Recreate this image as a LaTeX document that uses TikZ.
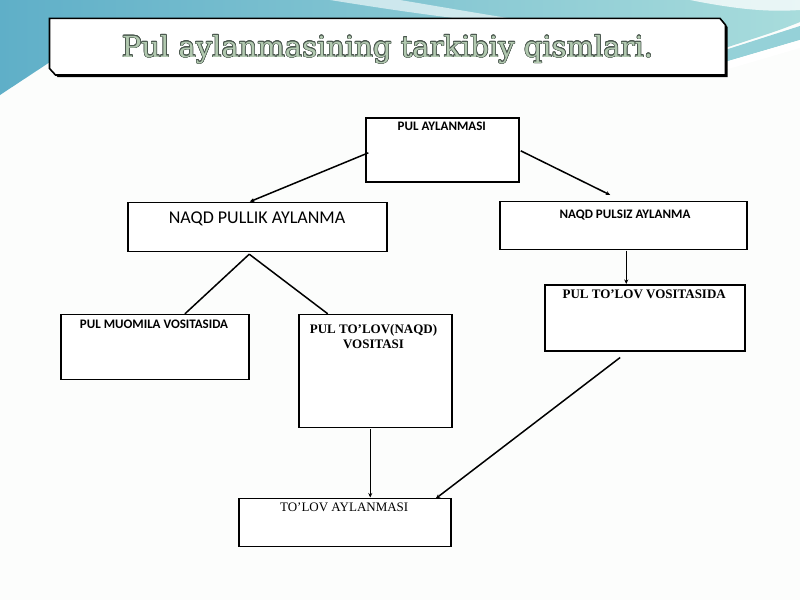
\documentclass[tikz,border=0pt]{standalone}
\usepackage{fontspec}
\setmainfont{Liberation Serif}
\setsansfont{Carlito}
\newfontfamily\titlefont{DejaVu Serif}
\usepackage[copies]{contour}
\usetikzlibrary{calc,arrows.meta}
\definecolor{tealA}{HTML}{5FAFC8}
\definecolor{tealB}{HTML}{A8DCDC}
\definecolor{tealC}{HTML}{7CC6CF}
\definecolor{titlefill}{HTML}{B2C9B0}
\definecolor{titleline}{HTML}{4A574E}
\definecolor{pagebg}{HTML}{FCFDFC}
\tikzset{
  box/.style={draw=black, line width=1.5pt, fill=white, anchor=north west, inner sep=0pt},
  sansb/.style={font=\sffamily\bfseries\fontsize{13}{15}\selectfont, inner sep=0pt, anchor=base},
  sansr/.style={font=\sffamily\fontsize{18}{20}\selectfont, inner sep=0pt, anchor=base},
  serifb/.style={font=\bfseries\fontsize{13}{15}\selectfont, inner sep=0pt, anchor=base},
  serifr/.style={font=\fontsize{13}{15}\selectfont, inner sep=0pt, anchor=base},
  conn/.style={draw=black, line width=1.5pt},
  arr/.style={conn, -{Stealth[length=4.5pt,width=4pt]}}
}
\begin{document}
\begin{tikzpicture}[x=1pt,y=-1pt]
\useasboundingbox (0,0) rectangle (800,600);
% background
\fill[pagebg] (0,0) rectangle (800,600);
\shade[left color=tealA, right color=tealB]
  (0,0) -- (800,0) -- (800,22) .. controls (780,30) .. (725,48) -- (50,62) -- (0,95) -- cycle;
\fill[white, opacity=0.6] (330,0) .. controls (380,8) and (420,14) .. (470,20) -- (520,20) .. controls (470,12) and (430,5) .. (400,0) -- cycle;
\fill[white, opacity=0.75] (690,0) .. controls (740,10) and (770,12) .. (800,10) -- (800,0) -- cycle;
\fill[tealC, opacity=0.8] (725,50) -- (800,26) -- (800,40) -- (725,62) -- cycle;
\fill[white] (725,62) -- (800,40) -- (800,48) -- (725,70) -- cycle;
% title box with shadow
\fill[black] (51.5,20) -- (722,20) -- (727.5,27) -- (727.5,77) -- (57.5,77) -- (51.5,70.5) -- cycle;
\draw[line width=1.6pt, fill=white] (49.5,18.4) -- (720,18.4) -- (725.5,25) -- (725.5,75) -- (55.5,75) -- (49.5,68.5) -- cycle;
\contourlength{0.6pt}
\node[inner sep=0pt, anchor=base] (title) at (387.5,57)
  {\titlefont\fontsize{29}{31}\selectfont\contour{titleline}{\textcolor{titlefill}{Pul aylanmasining tarkibiy qismlari.}}};
% boxes
\node[box, minimum width=153pt, minimum height=64pt] (pa) at (365.3,117.1) {};
\node[box, minimum width=259pt, minimum height=49pt] (np) at (127,201.7) {};
\node[box, minimum width=247pt, minimum height=48pt] (nz) at (499,200.5) {};
\node[box, minimum width=188pt, minimum height=65pt] (pm) at (60.2,313.8) {};
\node[box, minimum width=153pt, minimum height=113pt] (pt) at (298,313.8) {};
\node[box, minimum width=200pt, minimum height=66pt] (pv) at (544.4,284) {};
\node[box, minimum width=212pt, minimum height=48pt] (ta) at (238.3,497.5) {};
% texts
\node[sansb] (pa-t) at (441.8,130.8) {PUL AYLANMASI};
\node[sansr] (np-t) at (257,223.5) {NAQD PULLIK AYLANMA};
\node[sansb] (nz-t) at (625,218.8) {NAQD PULSIZ AYLANMA};
\node[sansb] (pm-t) at (154,328.3) {PUL MUOMILA VOSITASIDA};
\node[serifb] (pt-t1) at (373.5,333.5) {PUL TO’LOV(NAQD)};
\node[serifb] (pt-t2) at (373.5,348.5) {VOSITASI};
\node[serifb] (pv-t) at (644.2,298.3) {PUL TO’LOV VOSITASIDA};
\node[serifr] (ta-t) at (344.2,511.7) {TO’LOV AYLANMASI};
% connectors
\draw[arr] ($(pa.west)+(3,3)$) -- ($(np.north)+(-7.5,0)$);
\draw[arr] ($(pa.east)+(1,1)$) -- ($(nz.north)+(-13,-5.5)$);
\coordinate (npapex) at ($(np.south)+(-8,2)$);
\draw[conn] (npapex) -- ($(pm.north)+(30,0)$);
\draw[conn] (npapex) -- ($(pt.north)+(-47.5,0)$);
\coordinate (nzfoot) at ($(nz.south)+(3,0.7)$);
\draw[arr] (nzfoot) -- (nzfoot |- pv.north);
\coordinate (ptfoot) at ($(pt.south)+(-5,0.7)$);
\draw[arr] (ptfoot) -- (ptfoot |- ta.north);
\draw[arr] ($(pv.south)+(-25,6)$) -- ($(ta.north east)+(-16,1)$);
\end{tikzpicture}
\end{document}
